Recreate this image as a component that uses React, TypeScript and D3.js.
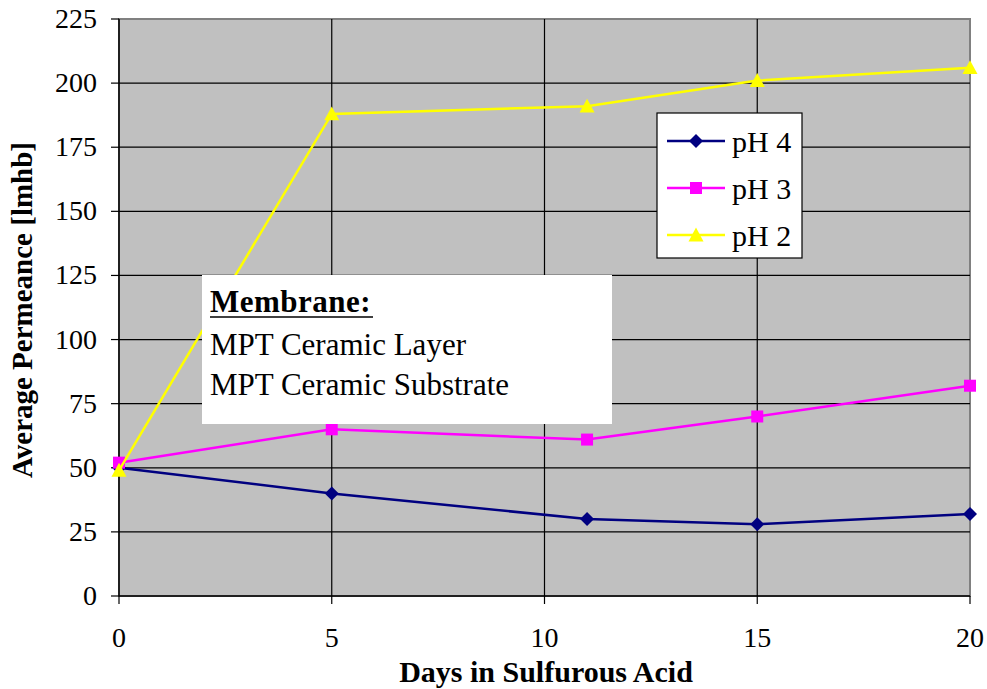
import React from "react";
import * as d3 from "d3";

const days = [0, 5, 11, 15, 20];
const ph4 = [50, 40, 30, 28, 32];
const ph3 = [52, 65, 61, 70, 82];
const ph2 = [49, 188, 191, 201, 206];
const seriesNames = ["pH 4", "pH 3", "pH 2"];
const seriesColors = ["#000080", "#FF00FF", "#FFFF00"];
const seriesShapes = ["diamond", "square", "triangle"];
const xTicks = [0, 5, 10, 15, 20];
const yTicks = [0, 25, 50, 75, 100, 125, 150, 175, 200, 225];
const noteLines = ["MPT Ceramic Layer", "MPT Ceramic Substrate"];

const FONT = "'Liberation Serif', 'Times New Roman', serif";

function Marker({ shape, x, y, color }: { shape: string; x: number; y: number; color: string }) {
  if (shape === "diamond") {
    const s = 7;
    return <path d={`M${x},${y - s}L${x + s},${y}L${x},${y + s}L${x - s},${y}Z`} fill={color} />;
  }
  if (shape === "square") {
    const s = 6;
    return <rect x={x - s} y={y - s} width={2 * s} height={2 * s} fill={color} />;
  }
  const s = 7.5;
  return <path d={`M${x},${y - s}L${x + s},${y + s * 0.85}L${x - s},${y + s * 0.85}Z`} fill={color} />;
}

export default function App() {
  const W = 987, H = 689;
  const left = 119, right = 970, top = 19, bottom = 596;
  const x = d3.scaleLinear().domain([0, 20]).range([left, right]);
  const y = d3.scaleLinear().domain([0, 225]).range([bottom, top]);
  const data = [ph4, ph3, ph2];
  const line = d3.line<number>().x((_, i) => x(days[i])).y((d) => y(d));

  return (
    <svg width={W} height={H} style={{ position: "absolute", left: 0, top: 0 }} fontFamily={FONT}>
      <rect x={0} y={0} width={W} height={H} fill="#fff" />
      <rect x={left} y={top} width={right - left} height={bottom - top} fill="#C0C0C0" stroke="#808080" strokeWidth={2} />
      {yTicks.slice(1, -1).map((t) => (
        <line key={"gy" + t} x1={left} x2={right} y1={y(t)} y2={y(t)} stroke="#000" strokeWidth={1.2} />
      ))}
      {xTicks.slice(1, -1).map((t) => (
        <line key={"gx" + t} x1={x(t)} x2={x(t)} y1={top} y2={bottom} stroke="#000" strokeWidth={1.2} />
      ))}
      <line x1={left} x2={left} y1={top} y2={bottom} stroke="#000" strokeWidth={1.5} />
      <line x1={left} x2={right} y1={bottom} y2={bottom} stroke="#000" strokeWidth={1.5} />
      {yTicks.map((t) => (
        <g key={"yt" + t}>
          <line x1={left - 8} x2={left} y1={y(t)} y2={y(t)} stroke="#000" strokeWidth={1.2} />
          <text x={97} y={y(t) + 9} textAnchor="end" fontSize={28}>{t}</text>
        </g>
      ))}
      {xTicks.map((t) => (
        <g key={"xt" + t}>
          <line x1={x(t)} x2={x(t)} y1={bottom} y2={bottom + 8} stroke="#000" strokeWidth={1.2} />
          <text x={x(t)} y={647} textAnchor="middle" fontSize={28}>{t}</text>
        </g>
      ))}
      {data.map((vals, si) => (
        <g key={"s" + si}>
          <path d={line(vals) || ""} fill="none" stroke={seriesColors[si]} strokeWidth={2.5} />
          {vals.map((v, i) => (
            <Marker key={i} shape={seriesShapes[si]} x={x(days[i])} y={y(v)} color={seriesColors[si]} />
          ))}
        </g>
      ))}
      <rect x={202} y={275} width={410} height={149} fill="#fff" />
      <text x={210} y={312} fontSize={31} fontWeight="bold" letterSpacing={0.5}>Membrane:</text>
      <line x1={210} x2={373} y1={317} y2={317} stroke="#000" strokeWidth={1.5} />
      {noteLines.map((t, i) => (
        <text key={t} x={210} y={355 + i * 40} fontSize={31}>{t}</text>
      ))}
      <rect x={657} y={113} width={145} height={145} fill="#fff" stroke="#000" strokeWidth={1.2} />
      {seriesNames.map((n, i) => {
        const ly = 141 + i * 47;
        return (
          <g key={n}>
            <line x1={667} x2={725} y1={ly} y2={ly} stroke={seriesColors[i]} strokeWidth={2.5} />
            <Marker shape={seriesShapes[i]} x={696} y={ly} color={seriesColors[i]} />
            <text x={732} y={ly + 11} fontSize={30}>{n}</text>
          </g>
        );
      })}
      <text x={546} y={682} textAnchor="middle" fontSize={30} fontWeight="bold">Days in Sulfurous Acid</text>
      <text transform={`translate(32,310) rotate(-90)`} textAnchor="middle" fontSize={29} fontWeight="bold">Average Permeance [lmhb]</text>
    </svg>
  );
}
